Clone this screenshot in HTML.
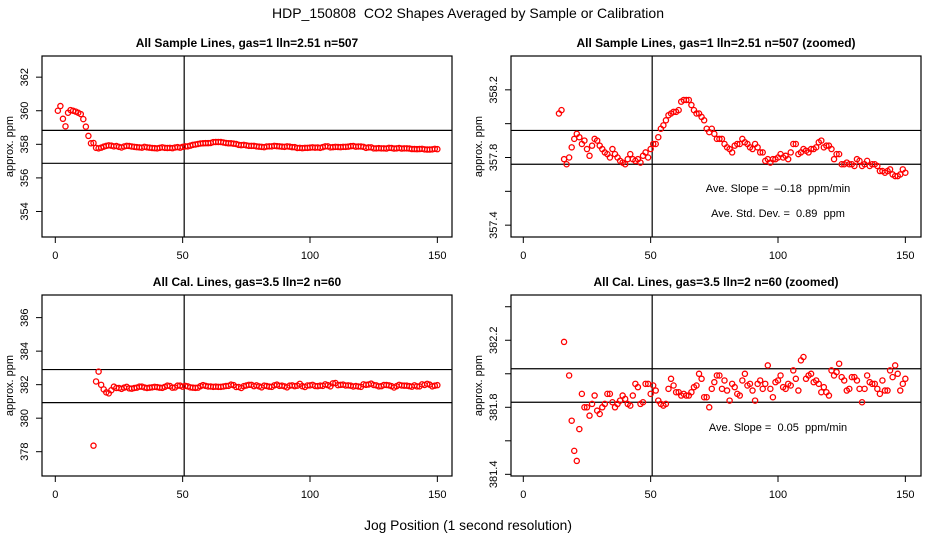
<!DOCTYPE html>
<html><head><meta charset="utf-8"><style>
html,body{margin:0;padding:0;background:#fff;width:936px;height:540px;overflow:hidden;}
svg{display:block;font-family:"Liberation Sans",sans-serif;}
</style></head><body>
<svg id="chart" width="936" height="540" xmlns="http://www.w3.org/2000/svg">
<text x="468" y="18" text-anchor="middle" font-size="14" style="white-space:pre">HDP_150808  CO2 Shapes Averaged by Sample or Calibration</text>
<text x="468" y="530" text-anchor="middle" font-size="13.8">Jog Position (1 second resolution)</text>
</svg>
<script>
// Sample line data: jog position 1..150
const sampleX = [];
const sampleY = [360.0,360.28,359.52,359.07,359.88,360.04,360.0,359.95,359.88,359.8,359.5,359.05,358.5,358.06,
358.08,357.79,357.76,357.80,357.86,357.91,357.94,357.92,357.88,357.90,357.85,357.81,357.87,357.91,357.90,357.87,
357.85,357.83,357.82,357.80,357.85,357.82,357.80,357.78,357.77,357.76,357.79,357.82,357.79,357.78,357.79,357.77,
357.81,357.83,357.80,357.85,357.88,357.88,357.92,357.97,357.99,358.02,358.05,358.06,358.07,358.07,358.08,358.13,
358.14,358.14,358.14,358.11,358.08,358.06,358.06,358.04,358.02,357.97,357.95,357.97,357.94,357.91,357.91,357.91,
357.88,357.86,357.85,357.83,357.87,357.88,357.88,357.91,357.89,357.88,357.86,357.85,357.88,357.86,357.83,357.83,
357.78,357.79,357.77,357.79,357.79,357.80,357.82,357.80,357.81,357.79,357.83,357.88,357.88,357.82,357.83,357.85,
357.84,357.83,357.85,357.85,357.86,357.89,357.90,357.86,357.87,357.87,357.85,357.79,357.82,357.82,357.76,357.76,
357.77,357.76,357.76,357.75,357.79,357.78,357.75,357.76,357.78,357.75,357.76,357.76,357.75,357.72,357.72,357.71,
357.72,357.73,357.70,357.69,357.69,357.70,357.73,357.71];
for (let i = 0; i < sampleY.length; i++) sampleX.push(i + 1);
// Calibration data: jog position 15..150
const calX = [];
const calY = [378.36,382.19,382.78,381.99,381.72,381.54,381.48,381.67,381.88,381.80,381.80,381.75,381.82,381.87,381.78,
381.76,381.80,381.82,381.88,381.88,381.83,381.80,381.82,381.84,381.87,381.85,381.82,381.81,381.87,381.94,381.92,
381.82,381.83,381.94,381.94,381.88,381.93,381.90,381.84,381.82,381.81,381.82,381.91,381.97,381.93,381.89,381.89,
381.87,381.88,381.87,381.87,381.89,381.92,381.93,382.00,381.97,381.86,381.86,381.80,381.91,381.95,381.99,381.99,
381.91,381.96,381.90,381.84,381.94,381.92,381.88,381.87,381.96,382.00,381.93,381.94,381.90,381.84,381.94,381.96,
381.91,381.94,382.05,381.91,381.86,381.95,381.96,381.99,381.92,381.91,381.94,381.93,382.02,381.97,381.90,382.08,
382.10,381.97,381.99,382.00,381.95,381.96,381.94,381.89,381.92,381.89,381.87,382.02,381.99,382.01,382.06,381.98,
381.96,381.90,381.91,381.98,381.98,381.96,381.91,381.83,381.91,381.99,381.95,381.94,381.94,381.91,381.88,381.96,
381.90,381.90,382.02,381.98,382.05,382.00,381.90,381.94,381.97];
for (let i = 0; i < calY.length; i++) calX.push(i + 15);
const xTicks = [0, 50, 100, 150];
const p1Ticks = [354, 356, 358, 360, 362];
const p2Ticks = [357.4, 357.6, 357.8, 358.0, 358.2];
const p2Labels = ["357.4", "", "357.8", "", "358.2"];
const p3Ticks = [378, 380, 382, 384, 386];
const p4Ticks = [381.4, 381.6, 381.8, 382.0, 382.2, 382.4];
const p4Labels = ["381.4", "", "381.8", "", "382.2", ""];

const NS = "http://www.w3.org/2000/svg";
const svg = document.getElementById("chart");
function mk(tag, attrs, parent, text) {
  const e = document.createElementNS(NS, tag);
  for (const k in attrs) e.setAttribute(k, attrs[k]);
  if (text !== undefined) e.textContent = text;
  (parent || svg).appendChild(e);
  return e;
}
const panels = [
  {name:"sample-panel", title:"All Sample Lines, gas=1 lln=2.51 n=507", L:42, R:452, T:56, B:237, x0:55.3, ymin:352.48, ymax:363.26,
   xs:sampleX, ys:sampleY, ticks:p1Ticks, labels:p1Ticks.map(String), h:[358.83,356.87], notes:[]},
  {name:"sample-zoom-panel", title:"All Sample Lines, gas=1 lln=2.51 n=507 (zoomed)", L:511, R:921, T:56, B:237, x0:523.3, ymin:357.33, ymax:358.40,
   xs:sampleX, ys:sampleY, ticks:p2Ticks, labels:p2Labels, h:[357.96,357.76], notes:[["Ave. Slope =  \u20130.18  ppm/min",192],["Ave. Std. Dev. =  0.89  ppm",217]]},
  {name:"cal-panel", title:"All Cal. Lines, gas=3.5 lln=2 n=60", L:42, R:452, T:295, B:476, x0:55.3, ymin:376.55, ymax:387.35,
   xs:calX, ys:calY, ticks:p3Ticks, labels:p3Ticks.map(String), h:[382.9,380.93], notes:[]},
  {name:"cal-zoom-panel", title:"All Cal. Lines, gas=3.5 lln=2 n=60 (zoomed)", L:511, R:921, T:295, B:476, x0:523.3, ymin:381.39, ymax:382.47,
   xs:calX, ys:calY, ticks:p4Ticks, labels:p4Labels, h:[382.03,381.83], notes:[["Ave. Slope =  0.05  ppm/min",431]]}
];
panels.forEach(p => {
  const g = mk("g", {});
  
  
  const sx = v => p.x0 + v * 2.547;
  const sy = v => p.B - (v - p.ymin) / (p.ymax - p.ymin) * (p.B - p.T);
  const t = mk("text", {x:(p.L+p.R)/2, y:p.T-9, "text-anchor":"middle", "font-size":"12", "font-weight":"bold"}, g, p.title);
  
  
  const clip = "clip-" + p.name;
  const cp = mk("clipPath", {id:clip}, g);
  mk("rect", {x:p.L, y:p.T, width:p.R-p.L, height:p.B-p.T}, cp);
  p.h.forEach(v => {
    const l = mk("line", {x1:p.L, x2:p.R, y1:sy(v), y2:sy(v), stroke:"#000", "stroke-width":1.2}, g);
    
    
  });
  const vl = mk("line", {x1:sx(50.6), x2:sx(50.6), y1:p.T, y2:p.B, stroke:"#000", "stroke-width":1.2}, g);
  
  
  const pg = mk("g", {"clip-path":"url(#"+clip+")"}, g);
  for (let i = 0; i < p.xs.length; i++) {
    const c = mk("circle", {cx:sx(p.xs[i]), cy:sy(p.ys[i]), r:2.6, fill:"none", stroke:"#f00", "stroke-width":1.3}, pg);
    
    
  }
  const box = mk("rect", {x:p.L, y:p.T, width:p.R-p.L, height:p.B-p.T, fill:"none", stroke:"#000", "stroke-width":1.2}, g);
  
  
  xTicks.forEach(v => {
    mk("line", {x1:sx(v), x2:sx(v), y1:p.B, y2:p.B+6, stroke:"#000", "stroke-width":1}, g);
    const tl = mk("text", {x:sx(v), y:p.B+22, "text-anchor":"middle", "font-size":"11"}, g, String(v));
    
    
  });
  p.ticks.forEach((v, i) => {
    mk("line", {x1:p.L-6, x2:p.L, y1:sy(v), y2:sy(v), stroke:"#000", "stroke-width":1}, g);
    if (p.labels[i]) {
      const lx = p.L - 14, ly = sy(v);
      const tl = mk("text", {x:lx, y:ly, "text-anchor":"middle", "font-size":"11", transform:"rotate(-90 "+lx+" "+ly+")"}, g, p.labels[i]);
      
      
    }
  });
  const ax = p.L - 29, ay = (p.T + p.B) / 2;
  const yt = mk("text", {x:ax, y:ay, "text-anchor":"middle", "font-size":"11", transform:"rotate(-90 "+ax+" "+ay+")"}, g, "approx. ppm");
  
  
  p.notes.forEach(n => {
    const nt = mk("text", {x:778, y:n[1], "text-anchor":"middle", "font-size":"11", style:"white-space:pre"}, g, n[0]);
    
    
  });
});
</script>
</body></html>
